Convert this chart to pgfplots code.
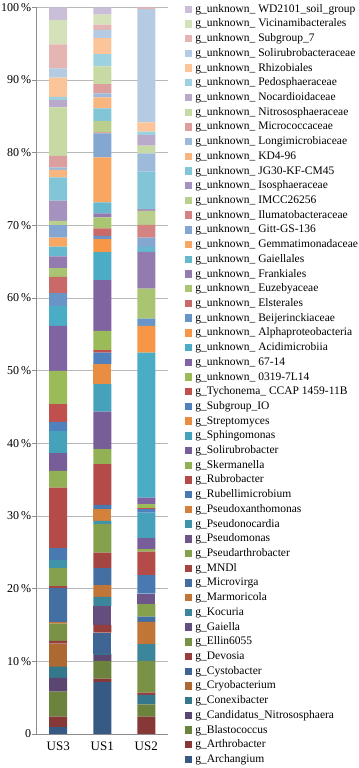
\documentclass[border=0pt]{standalone}
\usepackage{pgfplots}
\pgfplotsset{compat=1.18}
\usepackage{fontspec}
\setmainfont{Liberation Serif}
\definecolor{bB}{HTML}{4F81BD}
\definecolor{bR}{HTML}{C0504D}
\definecolor{bG}{HTML}{9BBB59}
\definecolor{bP}{HTML}{8064A2}
\definecolor{bA}{HTML}{4BACC6}
\definecolor{bO}{HTML}{F79646}
\begin{document}
\begin{tikzpicture}
\begin{axis}[
  scale only axis, width=132pt, height=726pt,
  ybar stacked, bar width=18pt,
  xmin=-0.5, xmax=2.5, ymin=0, ymax=100,
  xtick={0,1,2}, xticklabels={US3,US1,US2},
  ytick={0,10,20,30,40,50,60,70,80,90,100},
  yticklabels={0,10\,\%,20\,\%,30\,\%,40\,\%,50\,\%,60\,\%,70\,\%,80\,\%,90\,\%,100\,\%},
  axis x line*=bottom, axis y line*=left,
  axis line style={draw=gray!90, line width=0.7pt},
  ymajorgrids, grid style={draw=gray!55, line width=0.7pt},
  tick align=outside, major tick length=4pt,
  y tick style={draw=gray!90, line width=0.7pt},
  x tick style={draw=none},
  yticklabel style={font=\fontsize{12}{12}\selectfont, inner xsep=1pt},
  xticklabel style={font=\fontsize{13}{13}\selectfont, yshift=0pt},
  legend image code/.code={\fill[#1] (0pt,-3.7pt) rectangle (7.5pt,3.7pt);},
  reverse legend,
  legend cell align=left,
  legend style={draw=none, fill=none, at={(1.125,1.0092)}, anchor=north west,
    inner xsep=0pt, inner ysep=3pt, outer sep=0pt, font=\fontsize{11.5}{12}\selectfont,
    row sep=3.7pt, column sep=3pt,
    nodes={inner sep=0pt, text height=8.5pt, text depth=2.5pt}},
]
\addplot[fill=bB!70!black, draw=none] coordinates {(0,0.93) (1,7.16) (2,0)};
\addlegendentry{g\_Archangium}
\addplot[fill=bR!70!black, draw=none] coordinates {(0,1.45) (1,0.46) (2,2.38)};
\addlegendentry{g\_Arthrobacter}
\addplot[fill=bG!70!black, draw=none] coordinates {(0,3.45) (1,2.43) (2,1.70)};
\addlegendentry{g\_Blastococcus}
\addplot[fill=bP!70!black, draw=none] coordinates {(0,1.88) (1,0.83) (2,0)};
\addlegendentry{g\_Candidatus\_Nitrososphaera}
\addplot[fill=bA!70!black, draw=none] coordinates {(0,1.56) (1,0.18) (2,1.29)};
\addlegendentry{g\_Conexibacter}
\addplot[fill=bO!70!black, draw=none] coordinates {(0,3.16) (1,0) (2,0)};
\addlegendentry{g\_Cryobacterium}
\addplot[fill=bB!78!black, draw=none] coordinates {(0,0) (1,2.89) (2,0)};
\addlegendentry{g\_Cystobacter}
\addplot[fill=bR!78!black, draw=none] coordinates {(0,0.37) (1,1.06) (2,0.32)};
\addlegendentry{g\_Devosia}
\addplot[fill=bG!78!black, draw=none] coordinates {(0,2.39) (1,0) (2,4.36)};
\addlegendentry{g\_Ellin6055}
\addplot[fill=bP!78!black, draw=none] coordinates {(0,0) (1,2.61) (2,0)};
\addlegendentry{g\_Gaiella}
\addplot[fill=bA!78!black, draw=none] coordinates {(0,0) (1,1.24) (2,2.30)};
\addlegendentry{g\_Kocuria}
\addplot[fill=bO!78!black, draw=none] coordinates {(0,0.21) (1,1.61) (2,3.07)};
\addlegendentry{g\_Marmoricola}
\addplot[fill=bB!86!black, draw=none] coordinates {(0,4.66) (1,2.34) (2,0.73)};
\addlegendentry{g\_Microvirga}
\addplot[fill=bR!86!black, draw=none] coordinates {(0,0.27) (1,2.15) (2,0)};
\addlegendentry{g\_MNDl}
\addplot[fill=bG!86!black, draw=none] coordinates {(0,2.48) (1,3.91) (2,1.71)};
\addlegendentry{g\_Pseudarthrobacter}
\addplot[fill=bP!86!black, draw=none] coordinates {(0,0) (1,0) (2,1.46)};
\addlegendentry{g\_Pseudomonas}
\addplot[fill=bA!86!black, draw=none] coordinates {(0,1.15) (1,0.46) (2,0)};
\addlegendentry{g\_Pseudonocardia}
\addplot[fill=bO!86!black, draw=none] coordinates {(0,0) (1,1.61) (2,0)};
\addlegendentry{g\_Pseudoxanthomonas}
\addplot[fill=bB!94!black, draw=none] coordinates {(0,1.61) (1,0.59) (2,2.53)};
\addlegendentry{g\_Rubellimicrobium}
\addplot[fill=bR!94!black, draw=none] coordinates {(0,8.34) (1,5.60) (2,3.25)};
\addlegendentry{g\_Rubrobacter}
\addplot[fill=bG!94!black, draw=none] coordinates {(0,2.30) (1,2.07) (2,0.33)};
\addlegendentry{g\_Skermanella}
\addplot[fill=bP!94!black, draw=none] coordinates {(0,2.44) (1,5.18) (2,1.51)};
\addlegendentry{g\_Solirubrobacter}
\addplot[fill=bA!94!black, draw=none] coordinates {(0,3.02) (1,3.77) (2,3.53)};
\addlegendentry{g\_Sphingomonas}
\addplot[fill=bO!94!black, draw=none] coordinates {(0,0) (1,2.75) (2,0)};
\addlegendentry{g\_Streptomyces}
\addplot[fill=bB, draw=none] coordinates {(0,1.29) (1,1.60) (2,0.47)};
\addlegendentry{g\_Subgroup\_IO}
\addplot[fill=bR, draw=none] coordinates {(0,2.43) (1,0.33) (2,0.14)};
\addlegendentry{g\_Tychonema\_ CCAP 1459-11B}
\addplot[fill=bG, draw=none] coordinates {(0,4.59) (1,2.66) (2,0.55)};
\addlegendentry{g\_unknown\_ 0319-7L14}
\addplot[fill=bP, draw=none] coordinates {(0,6.19) (1,6.98) (2,0.91)};
\addlegendentry{g\_unknown\_ 67-14}
\addplot[fill=bA, draw=none] coordinates {(0,2.71) (1,3.85) (2,19.96)};
\addlegendentry{g\_unknown\_ Acidimicrobiia}
\addplot[fill=bO, draw=none] coordinates {(0,0) (1,1.79) (2,3.67)};
\addlegendentry{g\_unknown\_ Alphaproteobacteria}
\addplot[fill=bB!85!white, draw=none] coordinates {(0,1.79) (1,0.46) (2,1.01)};
\addlegendentry{g\_unknown\_ Beijerinckiaceae}
\addplot[fill=bR!85!white, draw=none] coordinates {(0,2.25) (1,1.00) (2,0)};
\addlegendentry{g\_unknown\_ Elsterales}
\addplot[fill=bG!85!white, draw=none] coordinates {(0,1.20) (1,1.52) (2,4.13)};
\addlegendentry{g\_unknown\_ Euzebyaceae}
\addplot[fill=bP!85!white, draw=none] coordinates {(0,1.60) (1,0.55) (2,5.05)};
\addlegendentry{g\_unknown\_ Frankiales}
\addplot[fill=bA!85!white, draw=none] coordinates {(0,1.37) (1,1.51) (2,0.69)};
\addlegendentry{g\_unknown\_ Gaiellales}
\addplot[fill=bO!85!white, draw=none] coordinates {(0,1.24) (1,6.20) (2,0)};
\addlegendentry{g\_unknown\_ Gemmatimonadaceae}
\addplot[fill=bB!70!white, draw=none] coordinates {(0,1.71) (1,3.30) (2,1.28)};
\addlegendentry{g\_unknown\_ Gitt-GS-136}
\addplot[fill=bR!70!white, draw=none] coordinates {(0,0) (1,0.14) (2,1.75)};
\addlegendentry{g\_unknown\_ Ilumatobacteraceae}
\addplot[fill=bG!70!white, draw=none] coordinates {(0,0.59) (1,1.56) (2,1.93)};
\addlegendentry{g\_unknown\_ IMCC26256}
\addplot[fill=bP!70!white, draw=none] coordinates {(0,2.76) (1,0) (2,0.23)};
\addlegendentry{g\_unknown\_ Isosphaeraceae}
\addplot[fill=bA!70!white, draw=none] coordinates {(0,3.21) (1,1.76) (2,5.14)};
\addlegendentry{g\_unknown\_ JG30-KF-CM45}
\addplot[fill=bO!70!white, draw=none] coordinates {(0,1.05) (1,1.50) (2,0)};
\addlegendentry{g\_unknown\_ KD4-96}
\addplot[fill=bB!55!white, draw=none] coordinates {(0,0.32) (1,0.55) (2,2.52)};
\addlegendentry{g\_unknown\_ Longimicrobiaceae}
\addplot[fill=bR!55!white, draw=none] coordinates {(0,1.61) (1,1.29) (2,0)};
\addlegendentry{g\_unknown\_ Micrococcaceae}
\addplot[fill=bG!55!white, draw=none] coordinates {(0,6.66) (1,2.43) (2,1.06)};
\addlegendentry{g\_unknown\_ Nitrososphaeraceae}
\addplot[fill=bP!55!white, draw=none] coordinates {(0,1.01) (1,0) (2,1.47)};
\addlegendentry{g\_unknown\_ Nocardioidaceae}
\addplot[fill=bA!55!white, draw=none] coordinates {(0,0.45) (1,1.70) (2,0.46)};
\addlegendentry{g\_unknown\_ Pedosphaeraceae}
\addplot[fill=bO!55!white, draw=none] coordinates {(0,2.62) (1,2.19) (2,1.28)};
\addlegendentry{g\_unknown\_ Rhizobiales}
\addplot[fill=bB!42!white, draw=none] coordinates {(0,1.28) (1,1.12) (2,15.61)};
\addlegendentry{g\_unknown\_ Solirubrobacteraceae}
\addplot[fill=bR!42!white, draw=none] coordinates {(0,3.31) (1,0.73) (2,0.22)};
\addlegendentry{g\_unknown\_ Subgroup\_7}
\addplot[fill=bG!42!white, draw=none] coordinates {(0,3.35) (1,1.37) (2,0)};
\addlegendentry{g\_unknown\_ Vicinamibacterales}
\addplot[fill=bP!42!white, draw=none] coordinates {(0,1.74) (1,1.01) (2,0)};
\addlegendentry{g\_unknown\_ WD2101\_soil\_group}
\end{axis}
\end{tikzpicture}
\end{document}
